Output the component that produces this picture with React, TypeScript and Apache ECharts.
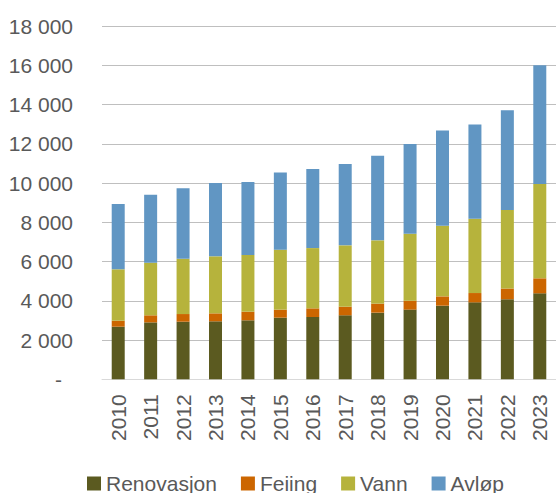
import React, { useEffect, useRef } from "react";
import * as echarts from "echarts";

const years = ["2010","2011","2012","2013","2014","2015","2016","2017","2018","2019","2020","2021","2022","2023"];
const renovasjon = [2680, 2900, 2935, 2955, 3005, 3140, 3175, 3260, 3395, 3550, 3750, 3920, 4075, 4380];
const feiing = [306, 360, 390, 405, 440, 410, 440, 440, 460, 455, 475, 475, 545, 765];
const vann = [2618, 2680, 2815, 2905, 2890, 3055, 3070, 3125, 3225, 3415, 3600, 3785, 4005, 4805];
const avlop = [3327, 3465, 3600, 3735, 3720, 3925, 4025, 4145, 4315, 4570, 4855, 4805, 5080, 6045];
const yTicks = [0, 2000, 4000, 6000, 8000, 10000, 12000, 14000, 16000, 18000];

const seriesNames = ["Renovasjon", "Feiing", "Vann", "Avløp"];
const seriesData = [renovasjon, feiing, vann, avlop];
const colors = ["#5B5A20", "#CC6600", "#B6B33C", "#6196C3"];

const FONT = "Liberation Sans";
const TEXT = "#595959";

export default function App() {
  const ref = useRef<HTMLDivElement>(null);
  useEffect(() => {
    if (!ref.current) return;
    const chart = echarts.init(ref.current, undefined, { renderer: "svg" });
    chart.setOption({
      animation: false,
      textStyle: { fontFamily: FONT },
      grid: { left: 102, top: 26, width: 459, height: 353.3, containLabel: false },
      legend: {
        data: seriesNames,
        left: 82,
        top: 468,
        icon: "rect",
        itemWidth: 14,
        itemHeight: 14,
        itemGap: 24,
        textStyle: { fontFamily: FONT, fontSize: 21, color: TEXT, padding: [0, 0, 0, 0] },
      },
      xAxis: {
        type: "category",
        data: years,
        axisLine: { lineStyle: { color: "#D9D9D9", width: 1 } },
        axisTick: { show: false },
        axisLabel: { rotate: 90, margin: 15, fontFamily: FONT, fontSize: 21, color: TEXT, interval: 0 },
      },
      yAxis: {
        type: "value",
        min: yTicks[0],
        max: yTicks[yTicks.length - 1],
        interval: 2000,
        axisLine: { show: false },
        axisTick: { show: false },
        splitLine: { lineStyle: { color: "#BFBFBF", width: 1 } },
        axisLabel: {
          margin: 29,
          fontFamily: FONT,
          fontSize: 21,
          color: TEXT,
          formatter: (v: number) => {
            if (v === 0) return "{d|-}";
            const s = String(v);
            return s.slice(0, s.length - 3) + " " + s.slice(s.length - 3);
          },
          rich: { d: { fontFamily: FONT, fontSize: 21, color: TEXT, padding: [0, 11, 0, 0] } },
        },
      },
      series: seriesNames.map((name, i) => ({
        name,
        type: "bar",
        stack: "total",
        data: seriesData[i],
        barWidth: 13,
        itemStyle: { color: colors[i] },
      })),
    });
    return () => chart.dispose();
  }, []);
  return (
    <div
      ref={ref}
      style={{ position: "fixed", left: 0, top: 0, width: 556, height: 493, background: "#fff" }}
    />
  );
}
